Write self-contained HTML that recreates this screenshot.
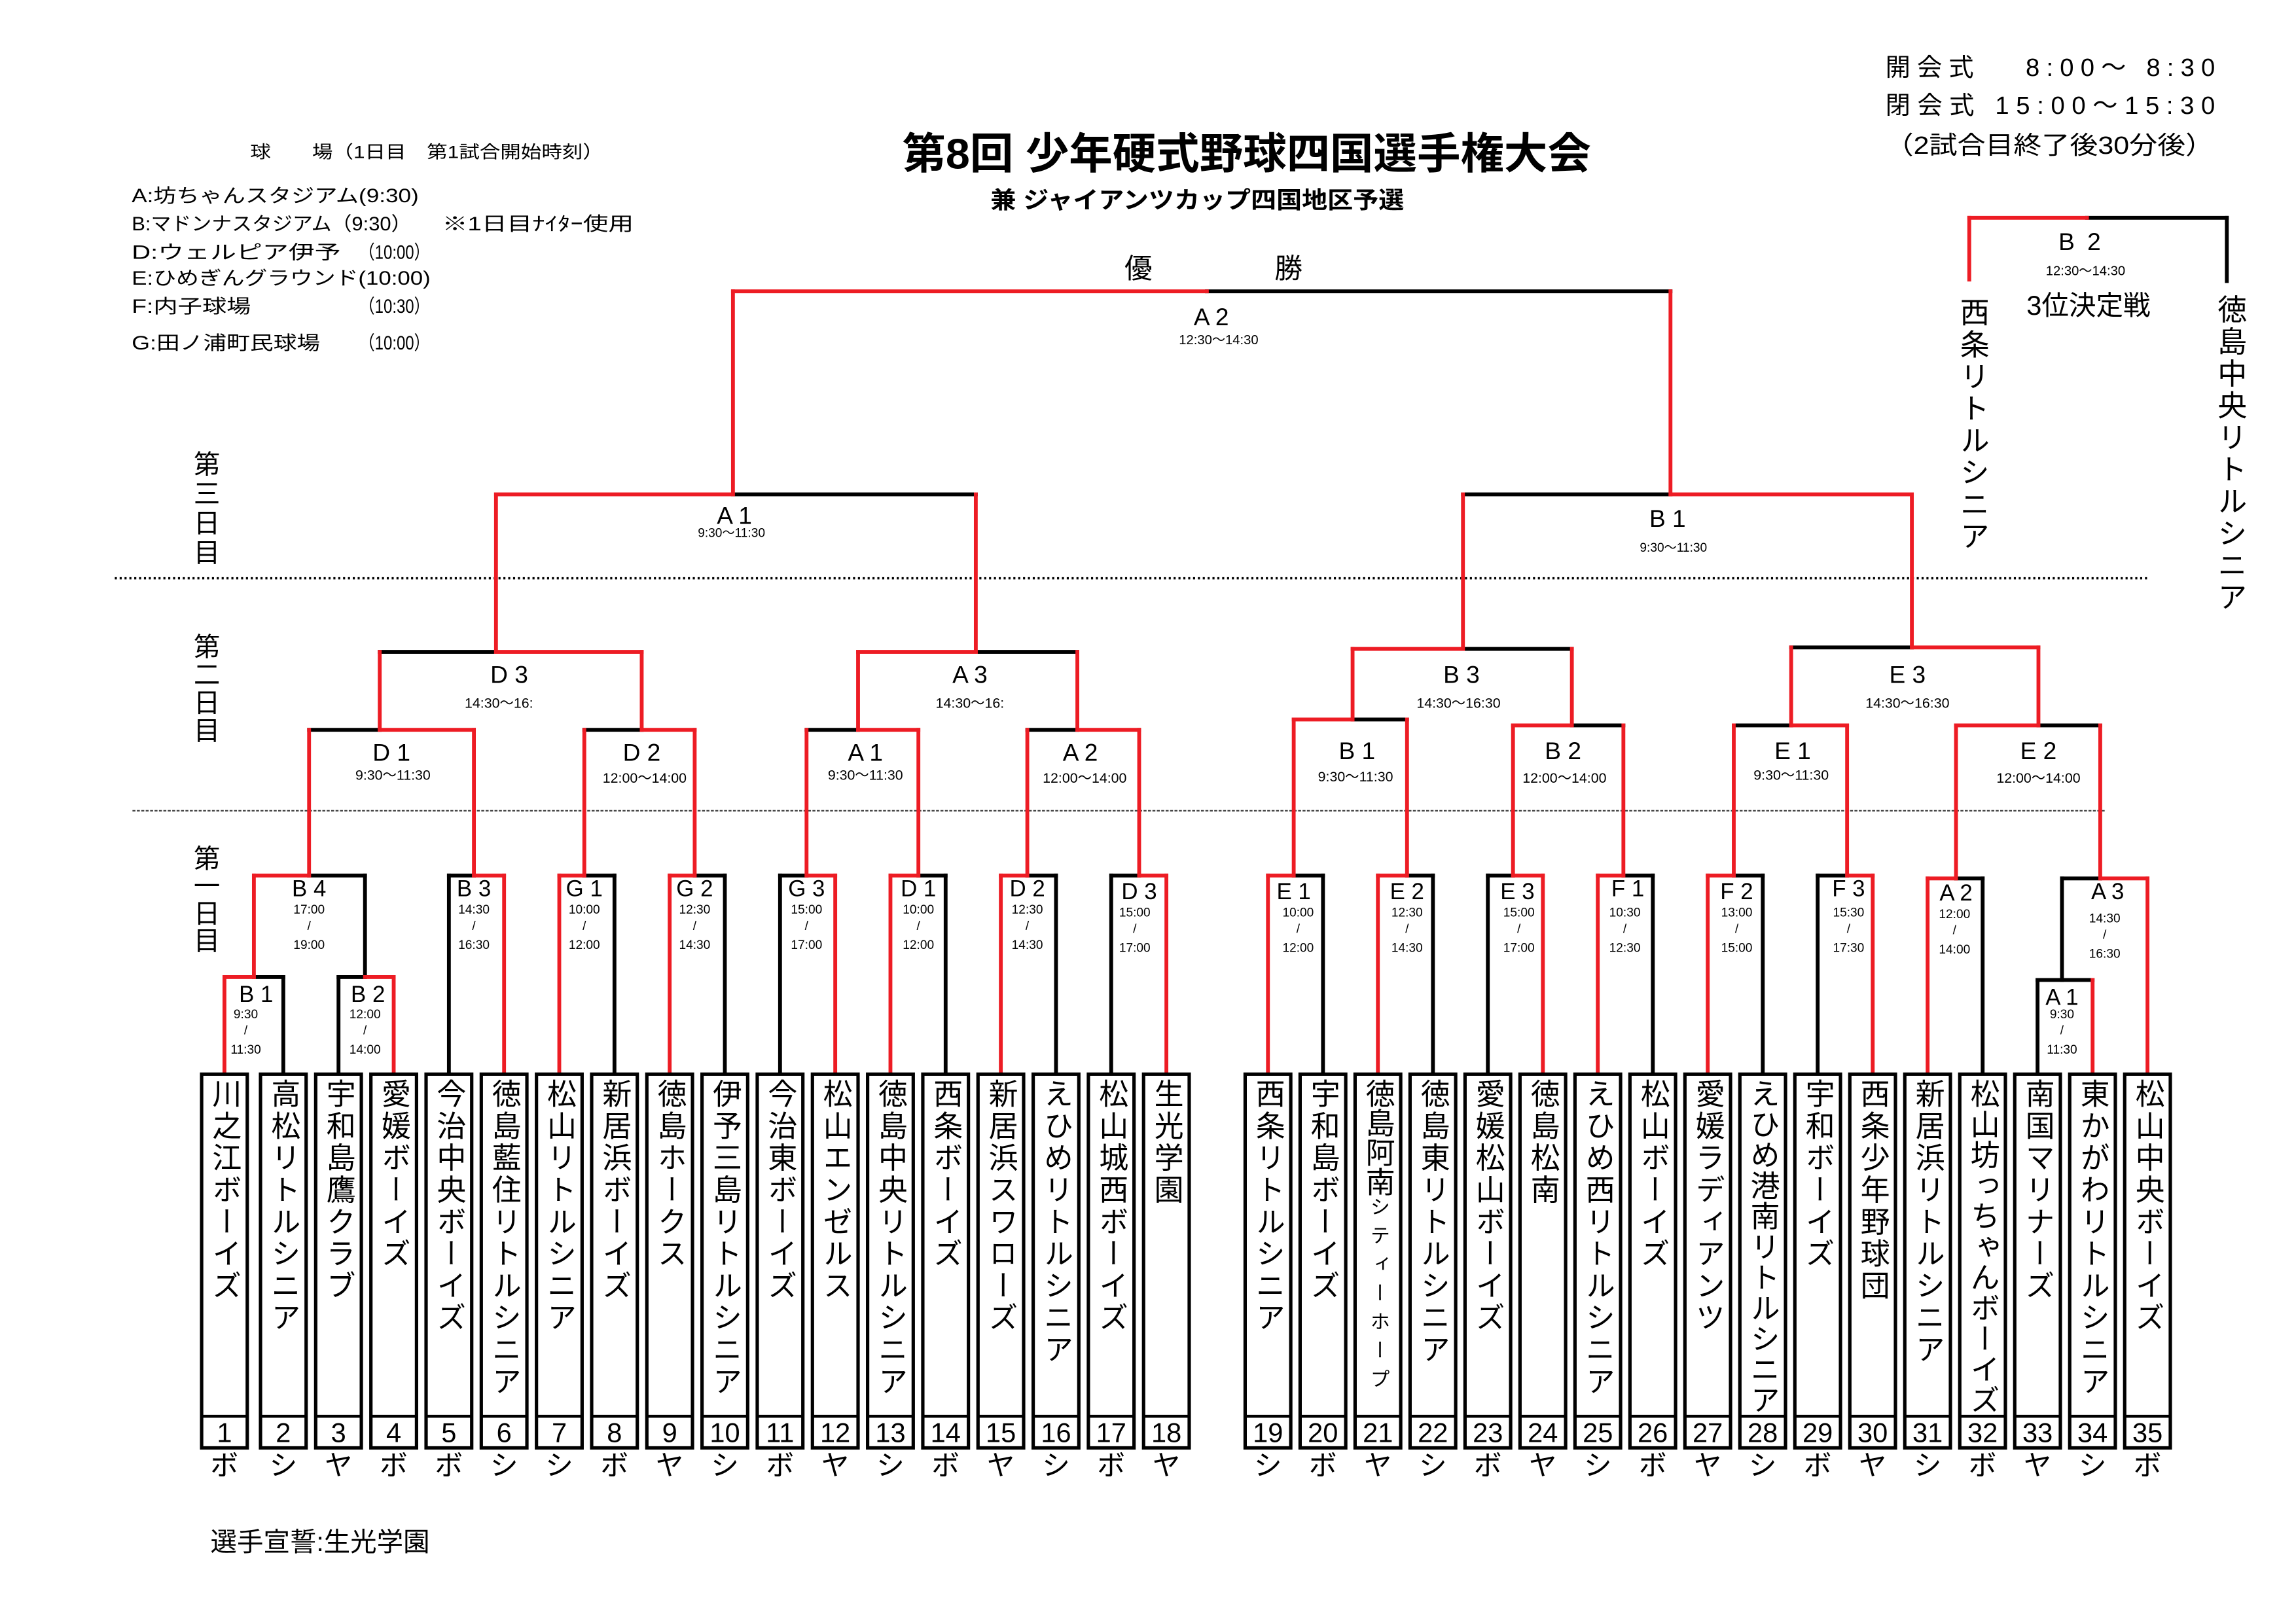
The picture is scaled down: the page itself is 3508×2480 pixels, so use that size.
<!DOCTYPE html>
<html><head><meta charset="utf-8">
<style>
html,body{margin:0;padding:0;background:#fff;}
svg{display:block;}
text{font-family:"Liberation Sans","Noto Sans CJK JP",sans-serif;fill:#000;}
.v{writing-mode:vertical-rl;font-size:20px;letter-spacing:1.7px;}
.v2{writing-mode:vertical-rl;font-size:20px;letter-spacing:0.8px;}
.num{font-size:18.5px;text-anchor:middle;}
.kana{font-size:19px;text-anchor:middle;}
.l1{font-size:15.5px;text-anchor:middle;}
.t1{font-size:8.5px;text-anchor:middle;}
.l2{font-size:16.5px;text-anchor:middle;}
.t2{font-size:9.5px;text-anchor:middle;}
.r{stroke:#ed1c24;stroke-width:2.6;fill:none;stroke-linecap:square;}
.k{stroke:#000;stroke-width:2.6;fill:none;stroke-linecap:square;}
.box{stroke:#000;stroke-width:2.3;fill:#fff;}
</style></head>
<body>
<svg width="3508" height="2480" viewBox="0 0 1560 1103" preserveAspectRatio="none" xmlns="http://www.w3.org/2000/svg">
<rect x="0" y="0" width="1560" height="1103" fill="#fff"/>

<!-- Title -->
<text x="613" y="114.5" font-size="29" font-weight="bold" textLength="468" lengthAdjust="spacingAndGlyphs">第8回 少年硬式野球四国選手権大会</text>
<text x="673" y="141.5" font-size="16" font-weight="bold" textLength="281" lengthAdjust="spacingAndGlyphs">兼 ジャイアンツカップ四国地区予選</text>

<!-- top right -->
<text x="1281" y="51.5" font-size="17" textLength="224" lengthAdjust="spacing">開会式　 8:00〜 8:30</text>
<text x="1281" y="77.5" font-size="17" textLength="224" lengthAdjust="spacing">閉会式 15:00〜15:30</text>
<text x="1281" y="104.5" font-size="17" textLength="223" lengthAdjust="spacingAndGlyphs">（2試合目終了後30分後）</text>

<!-- legend -->
<text x="170" y="107.5" font-size="12" textLength="240" lengthAdjust="spacingAndGlyphs">球　　場（1日目　第1試合開始時刻）</text>
<text x="89.5" y="137.5" font-size="13" textLength="195" lengthAdjust="spacingAndGlyphs">A:坊ちゃんスタジアム(9:30)</text>
<text x="89.5" y="156.5" font-size="13" textLength="190" lengthAdjust="spacingAndGlyphs">B:マドンナスタジアム（9:30）</text>
<text x="300.5" y="156.5" font-size="13" textLength="130" lengthAdjust="spacingAndGlyphs">※1日目ﾅｲﾀｰ使用</text>
<text x="89.5" y="176" font-size="13" textLength="142" lengthAdjust="spacingAndGlyphs">D:ウェルピア伊予</text>
<text x="244" y="176" font-size="13" textLength="48" lengthAdjust="spacingAndGlyphs">（10:00）</text>
<text x="89.5" y="193.5" font-size="13" textLength="203" lengthAdjust="spacingAndGlyphs">E:ひめぎんグラウンド(10:00)</text>
<text x="89.5" y="212.5" font-size="13" textLength="81" lengthAdjust="spacingAndGlyphs">F:内子球場</text>
<text x="244" y="212.5" font-size="13" textLength="48" lengthAdjust="spacingAndGlyphs">（10:30）</text>
<text x="89.5" y="237.5" font-size="13" textLength="128" lengthAdjust="spacingAndGlyphs">G:田ノ浦町民球場</text>
<text x="244" y="237.5" font-size="13" textLength="48" lengthAdjust="spacingAndGlyphs">（10:00）</text>

<!-- day labels -->
<text x="139" y="306" class="v" style="font-size:18px;letter-spacing:2px">第三日目</text>
<text x="139" y="430" class="v" style="font-size:18px;letter-spacing:1px">第二日目</text>
<text x="139" y="574" class="v" style="font-size:18px;letter-spacing:0.6px">第一日目</text>

<!-- dotted lines -->
<line x1="78" y1="393" x2="1460" y2="393" stroke="#000" stroke-width="1.6" stroke-dasharray="1.4 1.9"/>
<line x1="90" y1="551" x2="1430" y2="551" stroke="#444" stroke-width="1" stroke-dasharray="2 1"/>

<!-- final -->
<text x="764" y="189" font-size="19">優</text>
<text x="866" y="189" font-size="19">勝</text>
<text x="823" y="221" class="l2">A 2</text>
<text x="828" y="234" class="t2" style="font-size:9px">12:30〜14:30</text>

<!-- 3rd place -->
<line class="k" x1="1418" y1="148" x2="1513" y2="148"/>
<line class="k" x1="1513" y1="148" x2="1513" y2="191"/>
<line class="r" x1="1338" y1="148" x2="1418" y2="148"/>
<line class="r" x1="1338" y1="148" x2="1338" y2="190"/>
<text x="1414" y="170" class="l2" style="letter-spacing:2px">B 2</text>
<text x="1417" y="187" class="t2" style="font-size:9px">12:30〜14:30</text>
<text x="1419" y="214" font-size="18.5" text-anchor="middle">3位決定戦</text>
<text x="1340" y="202" class="v" style="font-size:20px;letter-spacing:1.7px">西条リトルシニア</text>
<text x="1515" y="200" class="v" style="font-size:20px;letter-spacing:1.7px">徳島中央リトルシニア</text>

<!-- ===== BLACK LINES ===== -->
<g class="k">
<!-- left leaves losers -->
<line x1="192.5" y1="730" x2="192.5" y2="664"/>
<line x1="230" y1="730" x2="230" y2="664"/>
<line x1="305" y1="730" x2="305" y2="595"/>
<line x1="417.5" y1="730" x2="417.5" y2="595"/>
<line x1="492.5" y1="730" x2="492.5" y2="595"/>
<line x1="530" y1="730" x2="530" y2="595"/>
<line x1="642.5" y1="730" x2="642.5" y2="595"/>
<line x1="717.5" y1="730" x2="717.5" y2="595"/>
<line x1="755" y1="730" x2="755" y2="595"/>
<!-- left horizontals black -->
<line x1="172.5" y1="664" x2="192.5" y2="664"/>
<line x1="230" y1="664" x2="248" y2="664"/>
<line x1="305" y1="595" x2="322" y2="595"/>
<line x1="397" y1="595" x2="417.5" y2="595"/>
<line x1="472" y1="595" x2="492.5" y2="595"/>
<line x1="530" y1="595" x2="548" y2="595"/>
<line x1="624" y1="595" x2="642.5" y2="595"/>
<line x1="698" y1="595" x2="717.5" y2="595"/>
<line x1="755" y1="595" x2="774" y2="595"/>
<line x1="210" y1="595" x2="248" y2="595"/>
<line x1="248" y1="664" x2="248" y2="595"/>
<line x1="210" y1="496" x2="258" y2="496"/>
<line x1="397" y1="496" x2="436" y2="496"/>
<line x1="548" y1="496" x2="583" y2="496"/>
<line x1="698" y1="496" x2="732" y2="496"/>
<line x1="258" y1="443" x2="337" y2="443"/>
<line x1="663" y1="443" x2="732" y2="443"/>
<line x1="498" y1="336" x2="663" y2="336"/>
<line x1="820" y1="198" x2="1135" y2="198"/>
<!-- right leaves losers -->
<line x1="898.9" y1="730" x2="898.9" y2="595"/>
<line x1="973.6" y1="730" x2="973.6" y2="595"/>
<line x1="1010.9" y1="730" x2="1010.9" y2="595"/>
<line x1="1123" y1="730" x2="1123" y2="595"/>
<line x1="1197.7" y1="730" x2="1197.7" y2="595"/>
<line x1="1235" y1="730" x2="1235" y2="595"/>
<line x1="1347.1" y1="730" x2="1347.1" y2="597"/>
<line x1="1384.4" y1="730" x2="1384.4" y2="666"/>
<!-- right horizontals black -->
<line x1="879" y1="595" x2="898.9" y2="595"/>
<line x1="956" y1="595" x2="973.6" y2="595"/>
<line x1="1010.9" y1="595" x2="1028" y2="595"/>
<line x1="1103" y1="595" x2="1123" y2="595"/>
<line x1="1178" y1="595" x2="1197.7" y2="595"/>
<line x1="1235" y1="595" x2="1255" y2="595"/>
<line x1="1329" y1="597" x2="1347.1" y2="597"/>
<line x1="1384.4" y1="666" x2="1421.8" y2="666"/>
<line x1="1401" y1="597" x2="1427" y2="597"/>
<line x1="1401" y1="666" x2="1401" y2="597"/>
<line x1="919" y1="489" x2="956" y2="489"/>
<line x1="1068" y1="493" x2="1103" y2="493"/>
<line x1="1178" y1="493" x2="1217" y2="493"/>
<line x1="1385" y1="493" x2="1427" y2="493"/>
<line x1="994" y1="441" x2="1068" y2="441"/>
<line x1="1217" y1="440" x2="1299" y2="440"/>
<line x1="994" y1="336" x2="1135" y2="336"/>
</g>

<!-- ===== RED LINES ===== -->
<g class="r">
<!-- left leaves winners -->
<line x1="152.5" y1="730" x2="152.5" y2="664"/>
<line x1="267.5" y1="730" x2="267.5" y2="664"/>
<line x1="342.5" y1="730" x2="342.5" y2="595"/>
<line x1="380" y1="730" x2="380" y2="595"/>
<line x1="455" y1="730" x2="455" y2="595"/>
<line x1="567.5" y1="730" x2="567.5" y2="595"/>
<line x1="605" y1="730" x2="605" y2="595"/>
<line x1="680" y1="730" x2="680" y2="595"/>
<line x1="792.5" y1="730" x2="792.5" y2="595"/>
<line x1="152.5" y1="664" x2="172.5" y2="664"/>
<line x1="248" y1="664" x2="267.5" y2="664"/>
<line x1="322" y1="595" x2="342.5" y2="595"/>
<line x1="380" y1="595" x2="397" y2="595"/>
<line x1="455" y1="595" x2="472" y2="595"/>
<line x1="548" y1="595" x2="567.5" y2="595"/>
<line x1="605" y1="595" x2="624" y2="595"/>
<line x1="680" y1="595" x2="698" y2="595"/>
<line x1="774" y1="595" x2="792.5" y2="595"/>
<line x1="172.5" y1="664" x2="172.5" y2="595"/>
<line x1="172.5" y1="595" x2="210" y2="595"/>
<line x1="210" y1="595" x2="210" y2="496"/>
<line x1="322" y1="595" x2="322" y2="496"/>
<line x1="397" y1="595" x2="397" y2="496"/>
<line x1="472" y1="595" x2="472" y2="496"/>
<line x1="548" y1="595" x2="548" y2="496"/>
<line x1="624" y1="595" x2="624" y2="496"/>
<line x1="698" y1="595" x2="698" y2="496"/>
<line x1="774" y1="595" x2="774" y2="496"/>
<line x1="258" y1="496" x2="322" y2="496"/>
<line x1="436" y1="496" x2="472" y2="496"/>
<line x1="583" y1="496" x2="624" y2="496"/>
<line x1="732" y1="496" x2="774" y2="496"/>
<line x1="258" y1="496" x2="258" y2="443"/>
<line x1="436" y1="496" x2="436" y2="443"/>
<line x1="583" y1="496" x2="583" y2="443"/>
<line x1="732" y1="496" x2="732" y2="443"/>
<line x1="337" y1="443" x2="436" y2="443"/>
<line x1="583" y1="443" x2="663" y2="443"/>
<line x1="337" y1="443" x2="337" y2="336"/>
<line x1="663" y1="443" x2="663" y2="336"/>
<line x1="337" y1="336" x2="498" y2="336"/>
<line x1="498" y1="336" x2="498" y2="198"/>
<line x1="498" y1="198" x2="820" y2="198"/>
<line x1="1135" y1="198" x2="1135" y2="336"/>
<!-- right winners -->
<line x1="861.5" y1="730" x2="861.5" y2="595"/>
<line x1="936.2" y1="730" x2="936.2" y2="595"/>
<line x1="1048.3" y1="730" x2="1048.3" y2="595"/>
<line x1="1085.6" y1="730" x2="1085.6" y2="595"/>
<line x1="1160.3" y1="730" x2="1160.3" y2="595"/>
<line x1="1272.4" y1="730" x2="1272.4" y2="595"/>
<line x1="1309.7" y1="730" x2="1309.7" y2="597"/>
<line x1="1421.8" y1="730" x2="1421.8" y2="666"/>
<line x1="1459.1" y1="730" x2="1459.1" y2="597"/>
<line x1="861.5" y1="595" x2="879" y2="595"/>
<line x1="936.2" y1="595" x2="956" y2="595"/>
<line x1="1028" y1="595" x2="1048.3" y2="595"/>
<line x1="1085.6" y1="595" x2="1103" y2="595"/>
<line x1="1160.3" y1="595" x2="1178" y2="595"/>
<line x1="1255" y1="595" x2="1272.4" y2="595"/>
<line x1="1309.7" y1="597" x2="1329" y2="597"/>
<line x1="1427" y1="597" x2="1459.1" y2="597"/>
<line x1="879" y1="595" x2="879" y2="489"/>
<line x1="956" y1="595" x2="956" y2="489"/>
<line x1="1028" y1="595" x2="1028" y2="493"/>
<line x1="1103" y1="595" x2="1103" y2="493"/>
<line x1="1178" y1="595" x2="1178" y2="493"/>
<line x1="1255" y1="595" x2="1255" y2="493"/>
<line x1="1329" y1="597" x2="1329" y2="493"/>
<line x1="1427" y1="597" x2="1427" y2="493"/>
<line x1="879" y1="489" x2="919" y2="489"/>
<line x1="1028" y1="493" x2="1068" y2="493"/>
<line x1="1217" y1="493" x2="1255" y2="493"/>
<line x1="1329" y1="493" x2="1385" y2="493"/>
<line x1="919" y1="489" x2="919" y2="441"/>
<line x1="1068" y1="493" x2="1068" y2="441"/>
<line x1="1217" y1="493" x2="1217" y2="440"/>
<line x1="1385" y1="493" x2="1385" y2="440"/>
<line x1="919" y1="441" x2="994" y2="441"/>
<line x1="1299" y1="440" x2="1385" y2="440"/>
<line x1="994" y1="441" x2="994" y2="336"/>
<line x1="1299" y1="440" x2="1299" y2="336"/>
<line x1="1135" y1="336" x2="1299" y2="336"/>
</g>

<!-- ===== MATCH LABELS ===== -->
<!-- day3 -->
<text x="499" y="356" class="l2">A 1</text><text x="497" y="365" class="t2" style="font-size:8.5px">9:30〜11:30</text>
<text x="1133" y="358" class="l2">B 1</text><text x="1137" y="375" class="t2" style="font-size:8.5px">9:30〜11:30</text>
<!-- day2 upper -->
<text x="346" y="464" class="l2">D 3</text><text x="339" y="481" class="t2">14:30〜16:</text>
<text x="659" y="464" class="l2">A 3</text><text x="659" y="481" class="t2">14:30〜16:</text>
<text x="993" y="464" class="l2">B 3</text><text x="991" y="481" class="t2">14:30〜16:30</text>
<text x="1296" y="464" class="l2">E 3</text><text x="1296" y="481" class="t2">14:30〜16:30</text>
<!-- day2 lower -->
<text x="266" y="517" class="l2">D 1</text><text x="267" y="530" class="t2">9:30〜11:30</text>
<text x="436" y="517" class="l2">D 2</text><text x="438" y="532" class="t2">12:00〜14:00</text>
<text x="588" y="517" class="l2">A 1</text><text x="588" y="530" class="t2">9:30〜11:30</text>
<text x="734" y="517" class="l2">A 2</text><text x="737" y="532" class="t2">12:00〜14:00</text>
<text x="922" y="516" class="l2">B 1</text><text x="921" y="531" class="t2">9:30〜11:30</text>
<text x="1062" y="516" class="l2">B 2</text><text x="1063" y="532" class="t2">12:00〜14:00</text>
<text x="1218" y="516" class="l2">E 1</text><text x="1217" y="530" class="t2">9:30〜11:30</text>
<text x="1385" y="516" class="l2">E 2</text><text x="1385" y="532" class="t2">12:00〜14:00</text>

<!-- day1 labels (top 595) -->
<g>
<text x="210" y="609" class="l1">B 4</text><text x="210" y="621" class="t1">17:00</text><text x="210" y="632" class="t1">/</text><text x="210" y="645" class="t1">19:00</text>
<text x="322" y="609" class="l1">B 3</text><text x="322" y="621" class="t1">14:30</text><text x="322" y="632" class="t1">/</text><text x="322" y="645" class="t1">16:30</text>
<text x="397" y="609" class="l1">G 1</text><text x="397" y="621" class="t1">10:00</text><text x="397" y="632" class="t1">/</text><text x="397" y="645" class="t1">12:00</text>
<text x="472" y="609" class="l1">G 2</text><text x="472" y="621" class="t1">12:30</text><text x="472" y="632" class="t1">/</text><text x="472" y="645" class="t1">14:30</text>
<text x="548" y="609" class="l1">G 3</text><text x="548" y="621" class="t1">15:00</text><text x="548" y="632" class="t1">/</text><text x="548" y="645" class="t1">17:00</text>
<text x="624" y="609" class="l1">D 1</text><text x="624" y="621" class="t1">10:00</text><text x="624" y="632" class="t1">/</text><text x="624" y="645" class="t1">12:00</text>
<text x="698" y="609" class="l1">D 2</text><text x="698" y="621" class="t1">12:30</text><text x="698" y="632" class="t1">/</text><text x="698" y="645" class="t1">14:30</text>
<text x="774" y="611" class="l1">D 3</text><text x="771" y="623" class="t1">15:00</text><text x="771" y="634" class="t1">/</text><text x="771" y="647" class="t1">17:00</text>
<text x="879" y="611" class="l1">E 1</text><text x="882" y="623" class="t1">10:00</text><text x="882" y="634" class="t1">/</text><text x="882" y="647" class="t1">12:00</text>
<text x="956" y="611" class="l1">E 2</text><text x="956" y="623" class="t1">12:30</text><text x="956" y="634" class="t1">/</text><text x="956" y="647" class="t1">14:30</text>
<text x="1031" y="611" class="l1">E 3</text><text x="1032" y="623" class="t1">15:00</text><text x="1032" y="634" class="t1">/</text><text x="1032" y="647" class="t1">17:00</text>
<text x="1106" y="609" class="l1">F 1</text><text x="1104" y="623" class="t1">10:30</text><text x="1104" y="634" class="t1">/</text><text x="1104" y="647" class="t1">12:30</text>
<text x="1180" y="611" class="l1">F 2</text><text x="1180" y="623" class="t1">13:00</text><text x="1180" y="634" class="t1">/</text><text x="1180" y="647" class="t1">15:00</text>
<text x="1256" y="609" class="l1">F 3</text><text x="1256" y="623" class="t1">15:30</text><text x="1256" y="634" class="t1">/</text><text x="1256" y="647" class="t1">17:30</text>
<text x="1329" y="612" class="l1">A 2</text><text x="1328" y="624" class="t1">12:00</text><text x="1328" y="635" class="t1">/</text><text x="1328" y="648" class="t1">14:00</text>
<text x="1432" y="611" class="l1">A 3</text><text x="1430" y="627" class="t1">14:30</text><text x="1430" y="638" class="t1">/</text><text x="1430" y="651" class="t1">16:30</text>
<!-- top 664 -->
<text x="174" y="681" class="l1">B 1</text><text x="167" y="692" class="t1">9:30</text><text x="167" y="703" class="t1">/</text><text x="167" y="716" class="t1">11:30</text>
<text x="250" y="681" class="l1">B 2</text><text x="248" y="692" class="t1">12:00</text><text x="248" y="703" class="t1">/</text><text x="248" y="716" class="t1">14:00</text>
<text x="1401" y="683" class="l1">A 1</text><text x="1401" y="692" class="t1">9:30</text><text x="1401" y="703" class="t1">/</text><text x="1401" y="716" class="t1">11:30</text>
</g>

<!-- ===== TEAM BOXES ===== -->
<g>
<g transform="translate(137,0)"><rect class="box" x="0" y="730" width="31" height="254"/><line x1="0" y1="962.5" x2="31" y2="962.5" stroke="#000" stroke-width="2"/><text class="v" x="15.5" y="733">川之江ボーイズ</text><text class="num" x="15.5" y="980">1</text><text class="kana" x="15.5" y="1002.5">ボ</text></g>
<g transform="translate(177,0)"><rect class="box" x="0" y="730" width="31" height="254"/><line x1="0" y1="962.5" x2="31" y2="962.5" stroke="#000" stroke-width="2"/><text class="v" x="15.5" y="733">高松リトルシニア</text><text class="num" x="15.5" y="980">2</text><text class="kana" x="15.5" y="1002.5">シ</text></g>
<g transform="translate(214.5,0)"><rect class="box" x="0" y="730" width="31" height="254"/><line x1="0" y1="962.5" x2="31" y2="962.5" stroke="#000" stroke-width="2"/><text class="v" x="15.5" y="733">宇和島鷹クラブ</text><text class="num" x="15.5" y="980">3</text><text class="kana" x="15.5" y="1002.5">ヤ</text></g>
<g transform="translate(252,0)"><rect class="box" x="0" y="730" width="31" height="254"/><line x1="0" y1="962.5" x2="31" y2="962.5" stroke="#000" stroke-width="2"/><text class="v" x="15.5" y="733">愛媛ボーイズ</text><text class="num" x="15.5" y="980">4</text><text class="kana" x="15.5" y="1002.5">ボ</text></g>
<g transform="translate(289.5,0)"><rect class="box" x="0" y="730" width="31" height="254"/><line x1="0" y1="962.5" x2="31" y2="962.5" stroke="#000" stroke-width="2"/><text class="v" x="15.5" y="733">今治中央ボーイズ</text><text class="num" x="15.5" y="980">5</text><text class="kana" x="15.5" y="1002.5">ボ</text></g>
<g transform="translate(327,0)"><rect class="box" x="0" y="730" width="31" height="254"/><line x1="0" y1="962.5" x2="31" y2="962.5" stroke="#000" stroke-width="2"/><text class="v" x="15.5" y="733">徳島藍住リトルシニア</text><text class="num" x="15.5" y="980">6</text><text class="kana" x="15.5" y="1002.5">シ</text></g>
<g transform="translate(364.5,0)"><rect class="box" x="0" y="730" width="31" height="254"/><line x1="0" y1="962.5" x2="31" y2="962.5" stroke="#000" stroke-width="2"/><text class="v" x="15.5" y="733">松山リトルシニア</text><text class="num" x="15.5" y="980">7</text><text class="kana" x="15.5" y="1002.5">シ</text></g>
<g transform="translate(402,0)"><rect class="box" x="0" y="730" width="31" height="254"/><line x1="0" y1="962.5" x2="31" y2="962.5" stroke="#000" stroke-width="2"/><text class="v" x="15.5" y="733">新居浜ボーイズ</text><text class="num" x="15.5" y="980">8</text><text class="kana" x="15.5" y="1002.5">ボ</text></g>
<g transform="translate(439.5,0)"><rect class="box" x="0" y="730" width="31" height="254"/><line x1="0" y1="962.5" x2="31" y2="962.5" stroke="#000" stroke-width="2"/><text class="v" x="15.5" y="733">徳島ホークス</text><text class="num" x="15.5" y="980">9</text><text class="kana" x="15.5" y="1002.5">ヤ</text></g>
<g transform="translate(477,0)"><rect class="box" x="0" y="730" width="31" height="254"/><line x1="0" y1="962.5" x2="31" y2="962.5" stroke="#000" stroke-width="2"/><text class="v" x="15.5" y="733">伊予三島リトルシニア</text><text class="num" x="15.5" y="980">10</text><text class="kana" x="15.5" y="1002.5">シ</text></g>
<g transform="translate(514.5,0)"><rect class="box" x="0" y="730" width="31" height="254"/><line x1="0" y1="962.5" x2="31" y2="962.5" stroke="#000" stroke-width="2"/><text class="v" x="15.5" y="733">今治東ボーイズ</text><text class="num" x="15.5" y="980">11</text><text class="kana" x="15.5" y="1002.5">ボ</text></g>
<g transform="translate(552,0)"><rect class="box" x="0" y="730" width="31" height="254"/><line x1="0" y1="962.5" x2="31" y2="962.5" stroke="#000" stroke-width="2"/><text class="v" x="15.5" y="733">松山エンゼルス</text><text class="num" x="15.5" y="980">12</text><text class="kana" x="15.5" y="1002.5">ヤ</text></g>
<g transform="translate(589.5,0)"><rect class="box" x="0" y="730" width="31" height="254"/><line x1="0" y1="962.5" x2="31" y2="962.5" stroke="#000" stroke-width="2"/><text class="v" x="15.5" y="733">徳島中央リトルシニア</text><text class="num" x="15.5" y="980">13</text><text class="kana" x="15.5" y="1002.5">シ</text></g>
<g transform="translate(627,0)"><rect class="box" x="0" y="730" width="31" height="254"/><line x1="0" y1="962.5" x2="31" y2="962.5" stroke="#000" stroke-width="2"/><text class="v" x="15.5" y="733">西条ボーイズ</text><text class="num" x="15.5" y="980">14</text><text class="kana" x="15.5" y="1002.5">ボ</text></g>
<g transform="translate(664.5,0)"><rect class="box" x="0" y="730" width="31" height="254"/><line x1="0" y1="962.5" x2="31" y2="962.5" stroke="#000" stroke-width="2"/><text class="v" x="15.5" y="733">新居浜スワローズ</text><text class="num" x="15.5" y="980">15</text><text class="kana" x="15.5" y="1002.5">ヤ</text></g>
<g transform="translate(702,0)"><rect class="box" x="0" y="730" width="31" height="254"/><line x1="0" y1="962.5" x2="31" y2="962.5" stroke="#000" stroke-width="2"/><text class="v" x="15.5" y="733">えひめリトルシニア</text><text class="num" x="15.5" y="980">16</text><text class="kana" x="15.5" y="1002.5">シ</text></g>
<g transform="translate(739.5,0)"><rect class="box" x="0" y="730" width="31" height="254"/><line x1="0" y1="962.5" x2="31" y2="962.5" stroke="#000" stroke-width="2"/><text class="v" x="15.5" y="733">松山城西ボーイズ</text><text class="num" x="15.5" y="980">17</text><text class="kana" x="15.5" y="1002.5">ボ</text></g>
<g transform="translate(777,0)"><rect class="box" x="0" y="730" width="31" height="254"/><line x1="0" y1="962.5" x2="31" y2="962.5" stroke="#000" stroke-width="2"/><text class="v" x="15.5" y="733">生光学園</text><text class="num" x="15.5" y="980">18</text><text class="kana" x="15.5" y="1002.5">ヤ</text></g>

<g transform="translate(846,0)"><rect class="box" x="0" y="730" width="31" height="254"/><line x1="0" y1="962.5" x2="31" y2="962.5" stroke="#000" stroke-width="2"/><text class="v" x="15.5" y="733">西条リトルシニア</text><text class="num" x="15.5" y="980">19</text><text class="kana" x="15.5" y="1002.5">シ</text></g>
<g transform="translate(883.35,0)"><rect class="box" x="0" y="730" width="31" height="254"/><line x1="0" y1="962.5" x2="31" y2="962.5" stroke="#000" stroke-width="2"/><text class="v" x="15.5" y="733">宇和島ボーイズ</text><text class="num" x="15.5" y="980">20</text><text class="kana" x="15.5" y="1002.5">ボ</text></g>
<g transform="translate(920.7,0)"><rect class="box" x="0" y="730" width="31" height="254"/><line x1="0" y1="962.5" x2="31" y2="962.5" stroke="#000" stroke-width="2"/><text class="v" x="15.5" y="733" style="letter-spacing:0">徳島阿南<tspan style="font-size:13.5px;letter-spacing:6px">シティーホープ</tspan></text><text class="num" x="15.5" y="980">21</text><text class="kana" x="15.5" y="1002.5">ヤ</text></g>
<g transform="translate(958.05,0)"><rect class="box" x="0" y="730" width="31" height="254"/><line x1="0" y1="962.5" x2="31" y2="962.5" stroke="#000" stroke-width="2"/><text class="v" x="15.5" y="733">徳島東リトルシニア</text><text class="num" x="15.5" y="980">22</text><text class="kana" x="15.5" y="1002.5">シ</text></g>
<g transform="translate(995.4,0)"><rect class="box" x="0" y="730" width="31" height="254"/><line x1="0" y1="962.5" x2="31" y2="962.5" stroke="#000" stroke-width="2"/><text class="v" x="15.5" y="733">愛媛松山ボーイズ</text><text class="num" x="15.5" y="980">23</text><text class="kana" x="15.5" y="1002.5">ボ</text></g>
<g transform="translate(1032.75,0)"><rect class="box" x="0" y="730" width="31" height="254"/><line x1="0" y1="962.5" x2="31" y2="962.5" stroke="#000" stroke-width="2"/><text class="v" x="15.5" y="733">徳島松南</text><text class="num" x="15.5" y="980">24</text><text class="kana" x="15.5" y="1002.5">ヤ</text></g>
<g transform="translate(1070.1,0)"><rect class="box" x="0" y="730" width="31" height="254"/><line x1="0" y1="962.5" x2="31" y2="962.5" stroke="#000" stroke-width="2"/><text class="v" x="15.5" y="733">えひめ西リトルシニア</text><text class="num" x="15.5" y="980">25</text><text class="kana" x="15.5" y="1002.5">シ</text></g>
<g transform="translate(1107.45,0)"><rect class="box" x="0" y="730" width="31" height="254"/><line x1="0" y1="962.5" x2="31" y2="962.5" stroke="#000" stroke-width="2"/><text class="v" x="15.5" y="733">松山ボーイズ</text><text class="num" x="15.5" y="980">26</text><text class="kana" x="15.5" y="1002.5">ボ</text></g>
<g transform="translate(1144.8,0)"><rect class="box" x="0" y="730" width="31" height="254"/><line x1="0" y1="962.5" x2="31" y2="962.5" stroke="#000" stroke-width="2"/><text class="v" x="15.5" y="733">愛媛ラディアンツ</text><text class="num" x="15.5" y="980">27</text><text class="kana" x="15.5" y="1002.5">ヤ</text></g>
<g transform="translate(1182.15,0)"><rect class="box" x="0" y="730" width="31" height="254"/><line x1="0" y1="962.5" x2="31" y2="962.5" stroke="#000" stroke-width="2"/><text class="v2" x="15.5" y="733">えひめ港南リトルシニア</text><text class="num" x="15.5" y="980">28</text><text class="kana" x="15.5" y="1002.5">シ</text></g>
<g transform="translate(1219.5,0)"><rect class="box" x="0" y="730" width="31" height="254"/><line x1="0" y1="962.5" x2="31" y2="962.5" stroke="#000" stroke-width="2"/><text class="v" x="15.5" y="733">宇和ボーイズ</text><text class="num" x="15.5" y="980">29</text><text class="kana" x="15.5" y="1002.5">ボ</text></g>
<g transform="translate(1256.85,0)"><rect class="box" x="0" y="730" width="31" height="254"/><line x1="0" y1="962.5" x2="31" y2="962.5" stroke="#000" stroke-width="2"/><text class="v" x="15.5" y="733">西条少年野球団</text><text class="num" x="15.5" y="980">30</text><text class="kana" x="15.5" y="1002.5">ヤ</text></g>
<g transform="translate(1294.2,0)"><rect class="box" x="0" y="730" width="31" height="254"/><line x1="0" y1="962.5" x2="31" y2="962.5" stroke="#000" stroke-width="2"/><text class="v" x="15.5" y="733">新居浜リトルシニア</text><text class="num" x="15.5" y="980">31</text><text class="kana" x="15.5" y="1002.5">シ</text></g>
<g transform="translate(1331.55,0)"><rect class="box" x="0" y="730" width="31" height="254"/><line x1="0" y1="962.5" x2="31" y2="962.5" stroke="#000" stroke-width="2"/><text class="v2" x="15.5" y="733">松山坊っちゃんボーイズ</text><text class="num" x="15.5" y="980">32</text><text class="kana" x="15.5" y="1002.5">ボ</text></g>
<g transform="translate(1368.9,0)"><rect class="box" x="0" y="730" width="31" height="254"/><line x1="0" y1="962.5" x2="31" y2="962.5" stroke="#000" stroke-width="2"/><text class="v" x="15.5" y="733">南国マリナーズ</text><text class="num" x="15.5" y="980">33</text><text class="kana" x="15.5" y="1002.5">ヤ</text></g>
<g transform="translate(1406.25,0)"><rect class="box" x="0" y="730" width="31" height="254"/><line x1="0" y1="962.5" x2="31" y2="962.5" stroke="#000" stroke-width="2"/><text class="v" x="15.5" y="733">東かがわリトルシニア</text><text class="num" x="15.5" y="980">34</text><text class="kana" x="15.5" y="1002.5">シ</text></g>
<g transform="translate(1443.6,0)"><rect class="box" x="0" y="730" width="31" height="254"/><line x1="0" y1="962.5" x2="31" y2="962.5" stroke="#000" stroke-width="2"/><text class="v" x="15.5" y="733">松山中央ボーイズ</text><text class="num" x="15.5" y="980">35</text><text class="kana" x="15.5" y="1002.5">ボ</text></g>
</g>

<!-- footer -->
<text x="143" y="1054" font-size="18">選手宣誓:生光学園</text>
</svg>
</body></html>
